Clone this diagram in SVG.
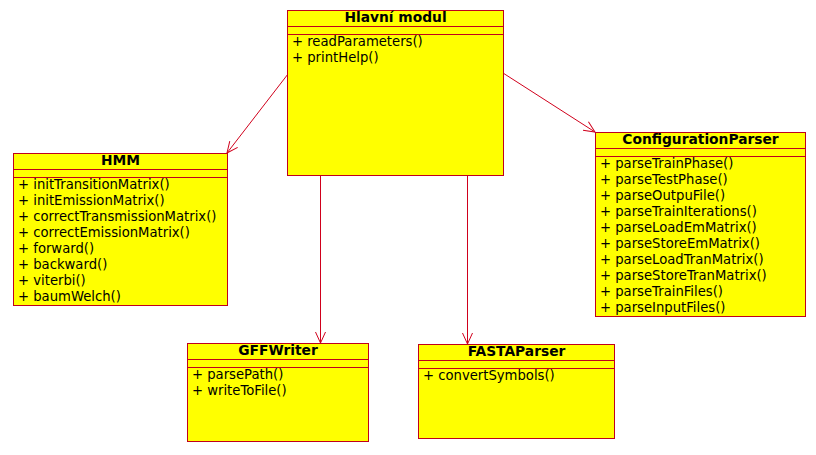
<svg xmlns="http://www.w3.org/2000/svg" width="816" height="455" viewBox="0 0 816 455">
<style>
.box{fill:#ffff00;stroke:#c0001c;stroke-width:1}
.sep{stroke:#c0001c;stroke-width:1}
.t{font-family:"DejaVu Sans",sans-serif;font-size:13.8px;font-weight:bold;fill:#000;text-anchor:middle}
.m{font-family:"DejaVu Sans",sans-serif;font-size:13.2px;fill:#000}
.c{stroke:#d0001c;stroke-width:1;fill:none;marker-end:url(#arr)}
</style>
<defs>
<marker id="arr" markerWidth="14" markerHeight="14" refX="12" refY="7" orient="auto" markerUnits="userSpaceOnUse">
<path d="M1,2 L12,7 L1,12" fill="none" stroke="#d0001c" stroke-width="1"/>
</marker>
</defs>
<rect width="816" height="455" fill="#fff"/>
<g id="connectors">
<line class="c" x1="288" y1="74" x2="227" y2="153"/>
<line class="c" x1="503" y1="73" x2="595" y2="132"/>
<line class="c" x1="320.5" y1="175" x2="320.5" y2="343"/>
<line class="c" x1="467.5" y1="175" x2="467.5" y2="344"/>
</g>
<g id="hlavni">
<rect class="box" x="287.5" y="10.5" width="216" height="165"/>
<line class="sep" x1="287.5" y1="26.5" x2="503.5" y2="26.5"/>
<line class="sep" x1="287.5" y1="34.5" x2="503.5" y2="34.5"/>
<text class="t" x="395.5" y="22">Hlavní modul</text>
<text class="m" x="292" y="46">+ readParameters()</text>
<text class="m" x="292" y="62">+ printHelp()</text>
</g>
<g id="hmm">
<rect class="box" x="13.5" y="153.5" width="214" height="152"/>
<line class="sep" x1="13.5" y1="169.5" x2="227.5" y2="169.5"/>
<line class="sep" x1="13.5" y1="177.5" x2="227.5" y2="177.5"/>
<text class="t" x="120.5" y="165">HMM</text>
<text class="m" x="18" y="189">+ initTransitionMatrix()</text>
<text class="m" x="18" y="205">+ initEmissionMatrix()</text>
<text class="m" x="18" y="221">+ correctTransmissionMatrix()</text>
<text class="m" x="18" y="237">+ correctEmissionMatrix()</text>
<text class="m" x="18" y="253">+ forward()</text>
<text class="m" x="18" y="269">+ backward()</text>
<text class="m" x="18" y="285">+ viterbi()</text>
<text class="m" x="18" y="301">+ baumWelch()</text>
</g>
<g id="configparser">
<rect class="box" x="595.5" y="132.5" width="210" height="184"/>
<line class="sep" x1="595.5" y1="148.5" x2="805.5" y2="148.5"/>
<line class="sep" x1="595.5" y1="156.5" x2="805.5" y2="156.5"/>
<text class="t" x="700.5" y="144">ConfigurationParser</text>
<text class="m" x="600" y="168">+ parseTrainPhase()</text>
<text class="m" x="600" y="184">+ parseTestPhase()</text>
<text class="m" x="600" y="200">+ parseOutpuFile()</text>
<text class="m" x="600" y="216">+ parseTrainIterations()</text>
<text class="m" x="600" y="232">+ parseLoadEmMatrix()</text>
<text class="m" x="600" y="248">+ parseStoreEmMatrix()</text>
<text class="m" x="600" y="264">+ parseLoadTranMatrix()</text>
<text class="m" x="600" y="280">+ parseStoreTranMatrix()</text>
<text class="m" x="600" y="296">+ parseTrainFiles()</text>
<text class="m" x="600" y="312">+ parseInputFiles()</text>
</g>
<g id="gffwriter">
<rect class="box" x="187.5" y="343.5" width="181" height="98"/>
<line class="sep" x1="187.5" y1="359.5" x2="368.5" y2="359.5"/>
<line class="sep" x1="187.5" y1="367.5" x2="368.5" y2="367.5"/>
<text class="t" x="278" y="355">GFFWriter</text>
<text class="m" x="192" y="379">+ parsePath()</text>
<text class="m" x="192" y="395">+ writeToFile()</text>
</g>
<g id="fastaparser">
<rect class="box" x="418.5" y="344.5" width="196" height="94"/>
<line class="sep" x1="418.5" y1="360.5" x2="614.5" y2="360.5"/>
<line class="sep" x1="418.5" y1="368.5" x2="614.5" y2="368.5"/>
<text class="t" x="516.5" y="356">FASTAParser</text>
<text class="m" x="423" y="380">+ convertSymbols()</text>
</g>
</svg>
